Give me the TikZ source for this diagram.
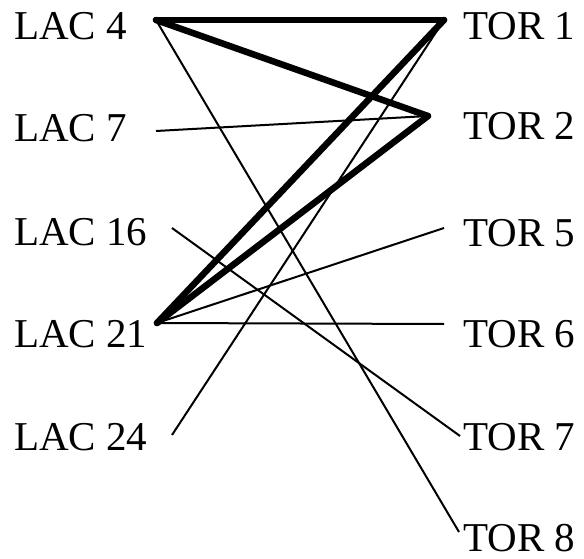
\documentclass[tikz,border=0pt]{standalone}
\usepackage{fontspec}
\setmainfont{Liberation Serif}
\begin{document}
\begin{tikzpicture}[x=1pt,y=-1pt,
  lbl/.style={inner sep=0pt,anchor=base west,font=\fontsize{41}{41}\selectfont},
  thin edge/.style={line width=2pt},
  thick edge/.style={line width=6.5pt,line cap=round,line join=round}]
\useasboundingbox (0,0) rectangle (584,559);
% labels
\node[lbl] (L4)  at (14,40)  {LAC 4};
\node[lbl] (L7)  at (14,142) {LAC 7};
\node[lbl] (L16) at (14,245) {LAC 16};
\node[lbl] (L21) at (14,347) {LAC 21};
\node[lbl] (L24) at (14,450) {LAC 24};
\node[lbl] (T1) at (463,40)  {TOR 1};
\node[lbl] (T2) at (463,140) {TOR 2};
\node[lbl] (T5) at (463,246) {TOR 5};
\node[lbl] (T6) at (463,347) {TOR 6};
\node[lbl] (T7) at (463,450) {TOR 7};
\node[lbl] (T8) at (463,551) {TOR 8};
% endpoints
\coordinate (l4)  at (156,20);
\coordinate (l7)  at (156,131);
\coordinate (l16) at (172,228);
\coordinate (l21) at (157,323);
\coordinate (l24) at (172,435);
\coordinate (t1) at (444,20);
\coordinate (t2) at (428,116);
\coordinate (t5) at (444,228);
\coordinate (t6) at (444,324);
\coordinate (t7) at (460,436);
\coordinate (t8) at (459,532);
% thin edges
\draw[thin edge] (l4) -- (t8);
\draw[thin edge] (l7) -- (t2);
\draw[thin edge] (l16) -- (t7);
\draw[thin edge] (l21) -- (t5);
\draw[thin edge] (l21) -- (t6);
\draw[thin edge] (l24) -- (t1);
% thick edges
\draw[thick edge] (l4) -- (t1);
\draw[thick edge] (l4) -- (t2);
\draw[thick edge] (l21) -- (t1);
\draw[thick edge] (l21) -- (t2);
\end{tikzpicture}
\end{document}
